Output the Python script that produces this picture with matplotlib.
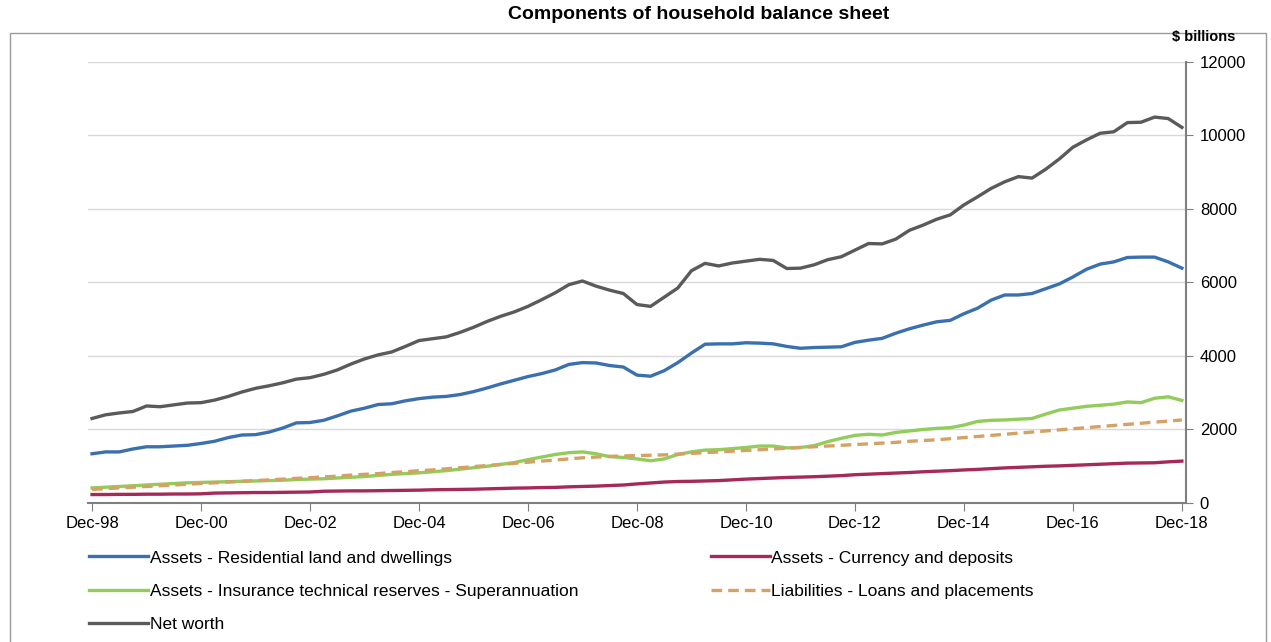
import matplotlib.pyplot as plt
from matplotlib.patches import Rectangle

plt.rcParams['font.family'] = ['Liberation Sans', 'DejaVu Sans']

# quarterly, Dec-98 .. Dec-18 ($ billions)
quarters = [f"{m}-{y % 100:02d}" for y in range(1998, 2019) for m in ["Mar", "Jun", "Sep", "Dec"]][3:84]

residential = [1340, 1390, 1390, 1470, 1530, 1530, 1550, 1570, 1620, 1680,
               1780, 1850, 1860, 1930, 2040, 2180, 2190, 2250, 2370, 2500,
               2580, 2680, 2700, 2780, 2840, 2880, 2900, 2950, 3030, 3130,
               3240, 3340, 3440, 3520, 3620, 3770, 3820, 3810, 3740, 3700,
               3480, 3450, 3600, 3820, 4080, 4320, 4330, 4330, 4360, 4350,
               4330, 4260, 4210, 4230, 4240, 4250, 4370, 4430, 4480, 4620,
               4740, 4840, 4930, 4970, 5150, 5300, 5520, 5660, 5660, 5700,
               5830, 5960, 6150, 6360, 6500, 6560, 6680, 6690, 6690, 6560, 6390]

currency = [230, 230, 235, 235, 240, 240, 245, 245, 250, 270,
            275, 280, 285, 285, 290, 295, 300, 320, 325, 330,
            330, 335, 340, 345, 350, 360, 365, 370, 375, 385,
            395, 405, 410, 420, 425, 440, 450, 460, 475, 490,
            520, 545, 570, 585, 590, 600, 610, 630, 650, 665,
            680, 695, 705, 715, 730, 745, 770, 785, 800, 815,
            830, 850, 865, 880, 900, 915, 935, 955, 970, 985,
            1000, 1010, 1025, 1040, 1055, 1070, 1085, 1090, 1095, 1120, 1140]

superannuation = [410, 430, 450, 470, 490, 510, 530, 550, 560, 570,
                  580, 590, 600, 610, 620, 640, 650, 660, 680, 700,
                  720, 750, 780, 800, 820, 850, 880, 920, 960, 1000,
                  1050, 1100, 1180, 1250, 1320, 1370, 1390, 1340, 1260, 1240,
                  1200, 1150, 1200, 1320, 1390, 1440, 1450, 1480, 1510, 1550,
                  1550, 1500, 1510, 1560, 1670, 1760, 1840, 1870, 1850, 1920,
                  1960, 2000, 2030, 2050, 2120, 2220, 2250, 2260, 2280, 2300,
                  2420, 2530, 2580, 2630, 2660, 2690, 2750, 2730, 2850, 2890, 2790]

loans = [370, 390, 410, 430, 450, 470, 490, 510, 530, 550,
         570, 590, 610, 630, 650, 670, 690, 710, 730, 760,
         780, 800, 830, 850, 880, 900, 930, 960, 990, 1020,
         1050, 1080, 1110, 1140, 1170, 1200, 1230, 1250, 1270, 1280,
         1290, 1300, 1310, 1330, 1350, 1370, 1390, 1410, 1430, 1450,
         1470, 1490, 1510, 1530, 1550, 1570, 1590, 1610, 1630, 1650,
         1680, 1700, 1720, 1750, 1780, 1810, 1840, 1870, 1900, 1930,
         1960, 1990, 2020, 2050, 2080, 2110, 2140, 2170, 2200, 2230, 2260]

net_worth = [2300, 2400, 2450, 2490, 2640, 2620, 2670, 2720, 2730, 2800,
             2900, 3020, 3120, 3190, 3270, 3370, 3410, 3500, 3620, 3780,
             3920, 4030, 4110, 4260, 4420, 4470, 4520, 4640, 4780, 4940,
             5080, 5200, 5350, 5530, 5720, 5940, 6040, 5900, 5790, 5700,
             5400, 5350, 5600, 5850, 6320, 6520, 6450, 6530, 6580, 6630,
             6600, 6380, 6390, 6480, 6620, 6700, 6880, 7060, 7050, 7180,
             7420, 7560, 7720, 7840, 8110, 8330, 8560, 8740, 8880, 8840,
             9080, 9360, 9680, 9880, 10060, 10100, 10350, 10360, 10500, 10460, 10220]

x = list(range(len(net_worth)))
tick_pos = x[::8]
tick_labels = [quarters[i] for i in tick_pos]

fig = plt.figure(figsize=(12.71, 6.42), dpi=100)
ax = fig.add_axes([0.0692, 0.2165, 0.8639, 0.687])

lw = 2.4
l1, = ax.plot(x, residential, color='#3b70b0', lw=lw, label='Assets - Residential land and dwellings')
l2, = ax.plot(x, currency, color='#a52a5a', lw=lw, label='Assets - Currency and deposits')
l3, = ax.plot(x, superannuation, color='#92cc5a', lw=lw, label='Assets - Insurance technical reserves - Superannuation')
l4, = ax.plot(x, loans, color='#d4a266', lw=lw, ls=(0, (3.2, 1.8)), label='Liabilities - Loans and placements')
l5, = ax.plot(x, net_worth, color='#5a5a5a', lw=lw, label='Net worth')

ax.set_xlim(-0.3, 80.3)
ax.set_ylim(0, 12000)
ax.set_yticks(range(0, 12001, 2000))
ax.yaxis.tick_right()
ax.grid(axis='y', color='#d9d9d9', lw=1)
ax.set_axisbelow(True)
for s in ['left', 'top']:
    ax.spines[s].set_visible(False)
for s in ['right', 'bottom']:
    ax.spines[s].set_color('#7f7f7f')
    ax.spines[s].set_linewidth(1.5)
ax.set_xticks(tick_pos)
ax.set_xticklabels(tick_labels)
ax.tick_params(axis='x', direction='out', length=6, color='#7f7f7f', labelsize=12, pad=3)
ax.tick_params(axis='y', direction='out', length=5, color='#7f7f7f', labelsize=12, pad=5)

fig.text(0.947, 0.943, '$ billions', fontsize=10.5, fontweight='bold', ha='center', va='center')
fig.text(0.55, 0.978, 'Components of household balance sheet', fontsize=14, fontweight='bold',
         ha='center', va='center')

fig.legend(handles=[l1, l3, l5, l2, l4], ncol=2, loc='upper left',
           bbox_to_anchor=(0.058, 0.167), frameon=False, fontsize=12.5,
           handlelength=3.4, handletextpad=0.1, labelspacing=1.05, columnspacing=7.6)

fig.patches.append(Rectangle((0.008, -0.05), 0.988, 0.999, transform=fig.transFigure,
                             fill=False, edgecolor='#9a9a9a', lw=1))

plt.savefig('out.png', dpi=100)
